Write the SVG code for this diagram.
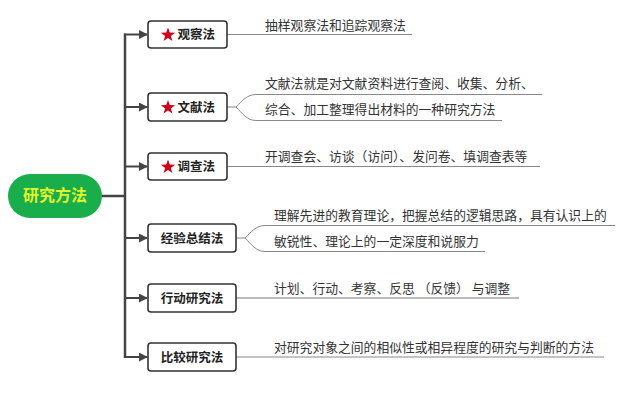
<svg xmlns="http://www.w3.org/2000/svg" width="640" height="401" viewBox="0 0 640 401">
<defs>
<style>
.box{fill:#fff;stroke:#333;stroke-width:1.6}
.lbl{font-family:"Noto Sans CJK SC","Noto Sans",sans-serif;font-size:12.5px;font-weight:bold;fill:#222}
.desc{font-family:"Noto Sans CJK SC","Noto Sans",sans-serif;font-size:12.8px;fill:#333}
.trunk{fill:none;stroke:#444;stroke-width:2.5}
.br{fill:none;stroke:#444;stroke-width:2}
.ul{fill:none;stroke:#888;stroke-width:1}
.star{fill:#d0021b}
</style>
<marker id="ah" viewBox="0 0 10 10" refX="9" refY="5" markerWidth="4.5" markerHeight="4.5" orient="auto" markerUnits="strokeWidth">
<path d="M0,0 L10,5 L0,10 z" fill="#444"/>
</marker>
<polygon id="st" points="0,-7.5 1.76,-2.43 7.13,-2.32 2.85,0.93 4.41,6.07 0,3 -4.41,6.07 -2.85,0.93 -7.13,-2.32 -1.76,-2.43"/>
</defs>
<rect width="640" height="401" fill="#fff"/>

<g id="connectors">
<line class="trunk" x1="102" y1="196" x2="125" y2="196"/>
<line class="trunk" x1="125" y1="33.5" x2="125" y2="358"/>
<line class="br" x1="124" y1="34.5" x2="147" y2="34.5" marker-end="url(#ah)"/>
<line class="br" x1="124" y1="107" x2="147" y2="107" marker-end="url(#ah)"/>
<line class="br" x1="124" y1="166.5" x2="147" y2="166.5" marker-end="url(#ah)"/>
<line class="br" x1="124" y1="238" x2="147" y2="238" marker-end="url(#ah)"/>
<line class="br" x1="124" y1="298" x2="147" y2="298" marker-end="url(#ah)"/>
<line class="br" x1="124" y1="357" x2="147" y2="357" marker-end="url(#ah)"/>

<path class="ul" d="M227,34.5 H412"/>
<path class="ul" d="M227,107 H236 C242,101 247,94.5 256,94.5 H542 M236,107 C242,113 247,120.5 256,120.5 H502"/>
<path class="ul" d="M227,166.5 H540"/>
<path class="ul" d="M236,238 H245 C251,232 256,225.5 265,225.5 H615 M245,238 C251,244 256,251.5 265,251.5 H485"/>
<path class="ul" style="stroke:#bbb;stroke-width:2" d="M236,298 H519"/>
<path class="ul" d="M236,357 H604"/>
</g>

<g id="root">
<rect x="8" y="174" width="94" height="44" rx="22" fill="#1aad4b"/>
<text x="55" y="201" text-anchor="middle" font-family="'Noto Sans CJK SC','Noto Sans',sans-serif" font-size="16" font-weight="bold" fill="#e2f52a">研究方法</text>
</g>

<g id="n1">
<rect class="box" x="148" y="21" width="79" height="27" rx="3"/>
<use href="#st" class="star" x="168" y="35"/>
<text class="lbl" x="177.5" y="39">观察法</text>
<text class="desc" x="265" y="30">抽样观察法和追踪观察法</text>
</g>

<g id="n2">
<rect class="box" x="148" y="93" width="79" height="28" rx="3"/>
<use href="#st" class="star" x="168" y="107.5"/>
<text class="lbl" x="177.5" y="111.5">文献法</text>
<text class="desc" x="265" y="88">文献法就是对文献资料进行查阅、收集、分析、</text>
<text class="desc" x="265" y="114">综合、加工整理得出材料的一种研究方法</text>
</g>

<g id="n3">
<rect class="box" x="148" y="153" width="79" height="27" rx="3"/>
<use href="#st" class="star" x="168" y="167"/>
<text class="lbl" x="177.5" y="171">调查法</text>
<text class="desc" x="265" y="161">开调查会、访谈（访问）、发问卷、填调查表等</text>
</g>

<g id="n4">
<rect class="box" x="148" y="224" width="88" height="28" rx="3"/>
<text class="lbl" x="192" y="242.5" text-anchor="middle">经验总结法</text>
<text class="desc" x="274" y="220">理解先进的教育理论，把握总结的逻辑思路，具有认识上的</text>
<text class="desc" x="274" y="246">敏锐性、理论上的一定深度和说服力</text>
</g>

<g id="n5">
<rect class="box" x="148" y="284" width="88" height="28" rx="3"/>
<text class="lbl" x="192" y="302.5" text-anchor="middle">行动研究法</text>
<text class="desc" x="274" y="293">计划、行动、考察、反思 （反馈） 与调整</text>
</g>

<g id="n6">
<rect class="box" x="148" y="343" width="88" height="28" rx="3"/>
<text class="lbl" x="192" y="361.5" text-anchor="middle">比较研究法</text>
<text class="desc" x="274" y="352">对研究对象之间的相似性或相异程度的研究与判断的方法</text>
</g>
</svg>
